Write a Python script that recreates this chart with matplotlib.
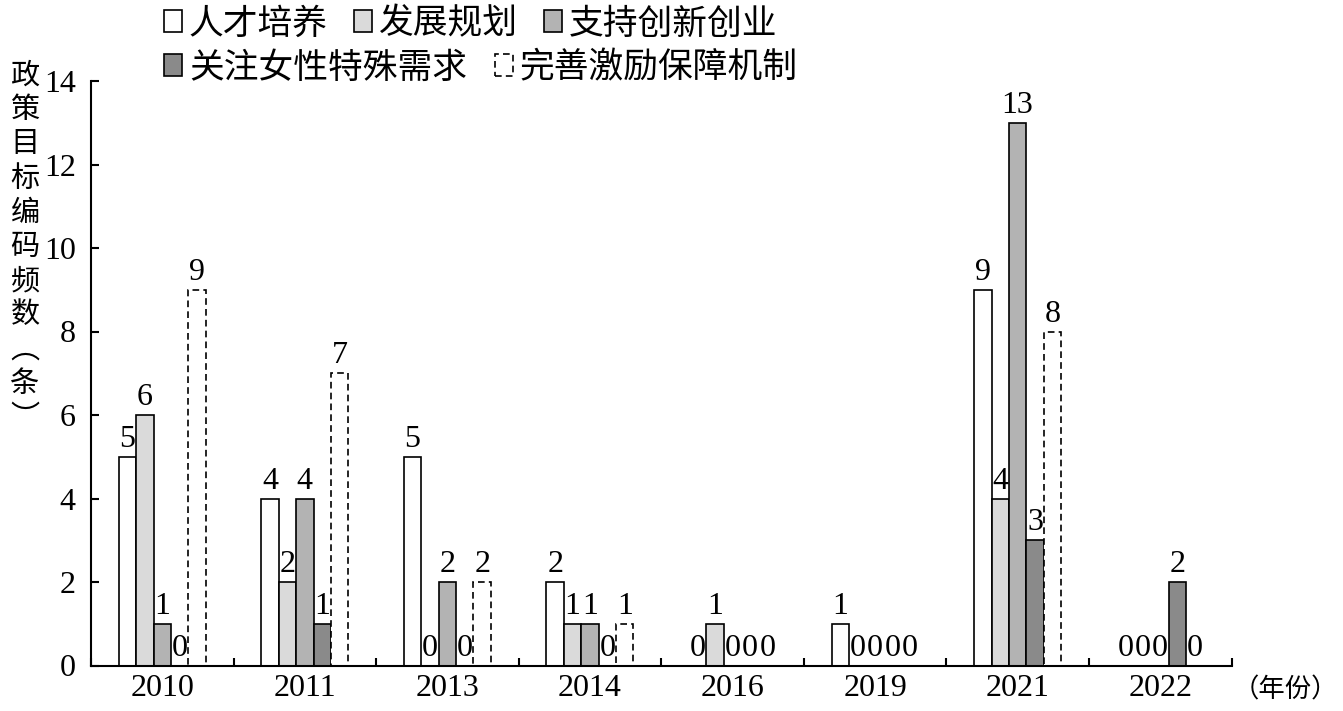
import numpy as np
import matplotlib
matplotlib.use("Agg")
import matplotlib.pyplot as plt
from matplotlib.patches import Patch

plt.rcParams['font.family'] = ['Liberation Serif', 'Noto Sans CJK SC']

# data
years = ['2010', '2011', '2013', '2014', '2016', '2019', '2021', '2022']
series_names = ['人才培养', '发展规划', '支持创新创业', '关注女性特殊需求', '完善激励保障机制']
talent = [5, 4, 5, 2, 0, 1, 9, 0]
planning = [6, 2, 0, 1, 1, 0, 4, 0]
innovation = [1, 4, 2, 1, 0, 0, 13, 0]
women_needs = [0, 1, 0, 0, 0, 0, 3, 2]
incentives = [9, 7, 2, 1, 0, 0, 8, 0]
y_label = '政策目标编码频数︵条︶'

all_series = [talent, planning, innovation, women_needs, incentives]
face_colors = ['white', '#dadada', '#b3b3b3', '#8a8a8a', 'white']
line_styles = ['solid', 'solid', 'solid', 'solid', (0, (4, 2.5))]

W, H = 1343, 711
fig = plt.figure(figsize=(W / 100, H / 100), dpi=100)
ax = fig.add_axes([91 / W, 1 - 665.5 / H, (1231.5 - 91) / W, (665.5 - 81) / H])

centers = np.arange(len(years)) + 0.5
bw = 0.122
for k, vals in enumerate(all_series):
    xs = centers + (k - 2) * bw
    ax.bar(xs, vals, width=bw, facecolor=face_colors[k], edgecolor='black',
           linewidth=1.2, linestyle=line_styles[k])
    for xv, v in zip(xs, vals):
        ax.annotate(str(v), (xv, v), xytext=(0, 2), textcoords='offset points',
                    ha='center', va='bottom', fontsize=23)

ax.set_xlim(0, len(years))
ax.set_ylim(0, 14)
ax.set_yticks(range(0, 15, 2))
ax.set_xticks(centers)
ax.set_xticklabels(years)
ax.set_xticks(np.arange(len(years) + 1), minor=True)
ax.tick_params(axis='x', which='major', length=0, pad=6, labelsize=23)
ax.tick_params(axis='x', which='minor', direction='in', length=6, width=1.5)
ax.tick_params(axis='y', direction='in', length=6, width=1.5, pad=11, labelsize=23)
for s in ['top', 'right']:
    ax.spines[s].set_visible(False)
for s in ['left', 'bottom']:
    ax.spines[s].set_linewidth(1.5)

# vertical stacked y label
for i, ch in enumerate(y_label):
    fig.text(25 / W, 1 - (76 + i * 34.2) / H, ch, ha='center', va='center',
             fontsize=21, family='Noto Sans CJK SC')

fig.text(1285 / W, 1 - 690 / H, '（年份）', ha='center', va='center',
         fontsize=19, family='Noto Sans CJK SC')

handles = [Patch(facecolor=face_colors[k], edgecolor='black', linewidth=1.2,
                 linestyle=line_styles[k], label=series_names[k]) for k in range(5)]
leg_kw = dict(frameon=False, loc='center left', borderpad=0, borderaxespad=0,
              handlelength=0.52, handleheight=0.6, handletextpad=0.2,
              bbox_transform=fig.transFigure,
              prop={'family': 'Noto Sans CJK SC', 'size': 25})
leg1 = ax.legend(handles=handles[:3], ncol=3, columnspacing=0.75,
                 bbox_to_anchor=(164 / W, 1 - 24 / H), **leg_kw)
ax.add_artist(leg1)
ax.legend(handles=handles[3:], ncol=2, columnspacing=0.8,
          bbox_to_anchor=(164 / W, 1 - 68 / H), **leg_kw)

fig.savefig('out.png', dpi=100)
